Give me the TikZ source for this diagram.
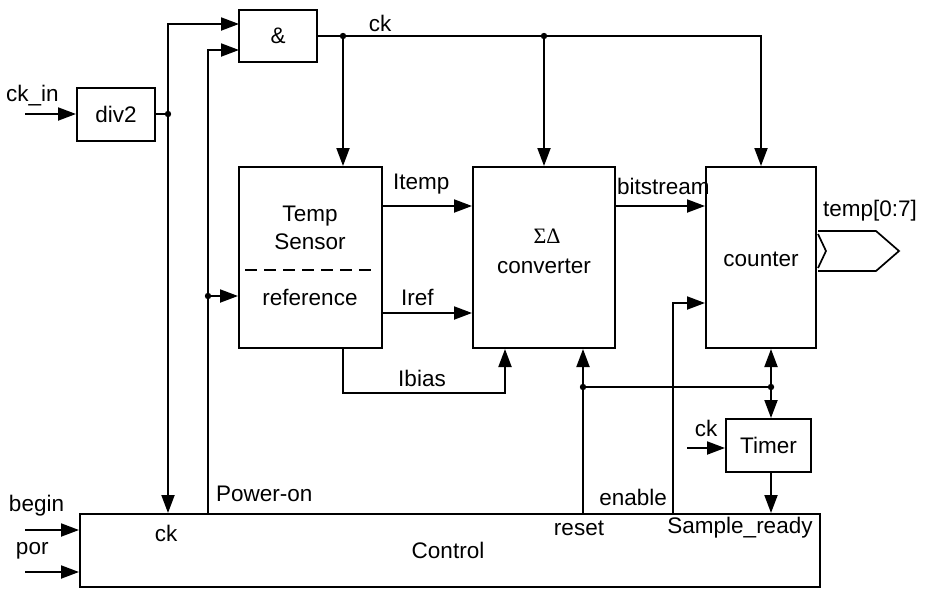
\documentclass[tikz,border=0pt]{standalone}
\usepackage{fontspec}
\setmainfont{Liberation Sans}
\newfontfamily\sdserif{Liberation Serif}
\usetikzlibrary{arrows.meta}
\begin{document}
\begin{tikzpicture}[x=1pt,y=-1pt,
  line width=2pt,
  every node/.style={font=\fontsize{22.5}{27}\selectfont, inner sep=0pt},
  blk/.style={draw, line width=2pt},
  arr/.style={-{Triangle[length=18pt,width=13pt]}},
  dot/.style={fill=black}]
\useasboundingbox (0,0) rectangle (928,589);
% boxes
\node[blk, minimum width=78, minimum height=53] (div2) at (116,114.5) {div2};
\node[blk, minimum width=78, minimum height=52] (and) at (278,36) {\&};
\node[blk, minimum width=143, minimum height=181] (ts) at (310.5,257.5) {};
\node[blk, minimum width=142, minimum height=181] (sd) at (544,257.5) {};
\node[blk, minimum width=110, minimum height=181] (cnt) at (761,257.5) {};
\node[blk, minimum width=85, minimum height=53] (timer) at (768.5,445.5) {Timer};
\node[blk, minimum width=740, minimum height=73] (ctrl) at (450,550.5) {};
% texts in boxes
\node (tst1) at (310,216) {Temp};
\node (tst2) at (310,242) {Sensor};
\node (tsr) at (310,297) {reference};
\node (sdt) at (547,236) {\sdserif\fontsize{22}{26}\selectfont ΣΔ};
\node (sdc) at (544,266) {converter};
\node (cntt) at (761,259) {counter};
\node (ctrlt) at (448,550) {Control};
\node (ctrlck) at (166,533) {ck};
\node (ctrlreset) at (579,528) {reset};
\node (ctrlsr) at (740,528) {Sample\_ready};
\draw[dash pattern=on 12pt off 7pt, line width=1.7pt] (245,270) -- (377,270);
% coordinates
\coordinate (ckin) at (25,114);
\coordinate (j1) at (168,114);
\coordinate (andin1) at (239,24);
\coordinate (andin2) at (239,50);
\coordinate (pon) at (208,514);
\coordinate (j2) at (208,296);
\coordinate (j3) at (343,36);
\coordinate (j4) at (544,36);
\coordinate (yit) at (0,206);
\coordinate (yir) at (0,313);
\coordinate (ib1) at (343,348);
\coordinate (ib2) at (505,393);
\coordinate (rs) at (583,514);
\coordinate (j5) at (583,387);
\coordinate (j6) at (771,387);
\coordinate (en) at (673,514);
\coordinate (yen) at (0,303);
\coordinate (tck) at (687,448);
\coordinate (bg) at (25,530);
\coordinate (pr) at (25,572);
% connectors
\draw[arr] (ckin) -- (div2.west |- ckin);
\draw (div2.east |- j1) -- (j1);
\draw[arr] (j1) |- (andin1);
\draw[arr] (j1) -- (j1 |- ctrl.north);
\draw[arr] (pon) |- (andin2);
\draw[arr] (j2) -- (j2 -| ts.west);
\draw[arr] (and.east) -| (cnt.north);
\draw[arr] (j3) -- (j3 |- ts.north);
\draw[arr] (j4) -- (sd.north);
\draw[arr] (ts.east |- yit) -- (sd.west |- yit);
\draw[arr] (sd.east |- yit) -- (cnt.west |- yit);
\draw[arr] (ts.east |- yir) -- (sd.west |- yir);
\draw[arr] (ib1) |- (ib2) -- (ib2 |- sd.south);
\draw[arr] (rs) -- (rs |- sd.south);
\draw (j5) -- (j6);
\draw[arr] (j6) -- (j6 |- cnt.south);
\draw[arr] (j6) -- (j6 |- timer.north);
\draw[arr] (timer.south -| j6) -- (j6 |- ctrl.north);
\draw[arr] (en) |- (cnt.west |- yen);
\draw[arr] (tck) -- (timer.west |- tck);
\draw[arr] (bg) -- (ctrl.west |- bg);
\draw[arr] (pr) -- (ctrl.west |- pr);
\foreach \p in {j1,j2,j3,j4,j5,j6} \fill[dot] (\p) circle (3.2pt);
% bus output
\draw[line width=1.7pt] (818,231) -- (876,231) -- (899,251) -- (876,271) -- (818,271);
\draw[line width=1.7pt] (818,234) -- (826,251) -- (818,268);
% labels
\node[anchor=west] (lckin) at (5,96) {ck\_in};
\node (lck) at (380,23) {ck};
\node[anchor=west] (litemp) at (392,184) {Itemp};
\node[anchor=west] (lbit) at (616,186) {bitstream};
\node[anchor=west] (liref) at (400,297) {Iref};
\node (libias) at (422,378) {Ibias};
\node[anchor=west] (ltemp) at (822,211) {temp[0:7]};
\node (ltck) at (706,428) {ck};
\node[anchor=east] (len) at (668,497) {enable};
\node[anchor=west] (lpon) at (215,494) {Power-on};
\node[anchor=west] (lbegin) at (8,506) {begin};
\node[anchor=west] (lpor) at (15,551) {por};
\end{tikzpicture}
\end{document}
